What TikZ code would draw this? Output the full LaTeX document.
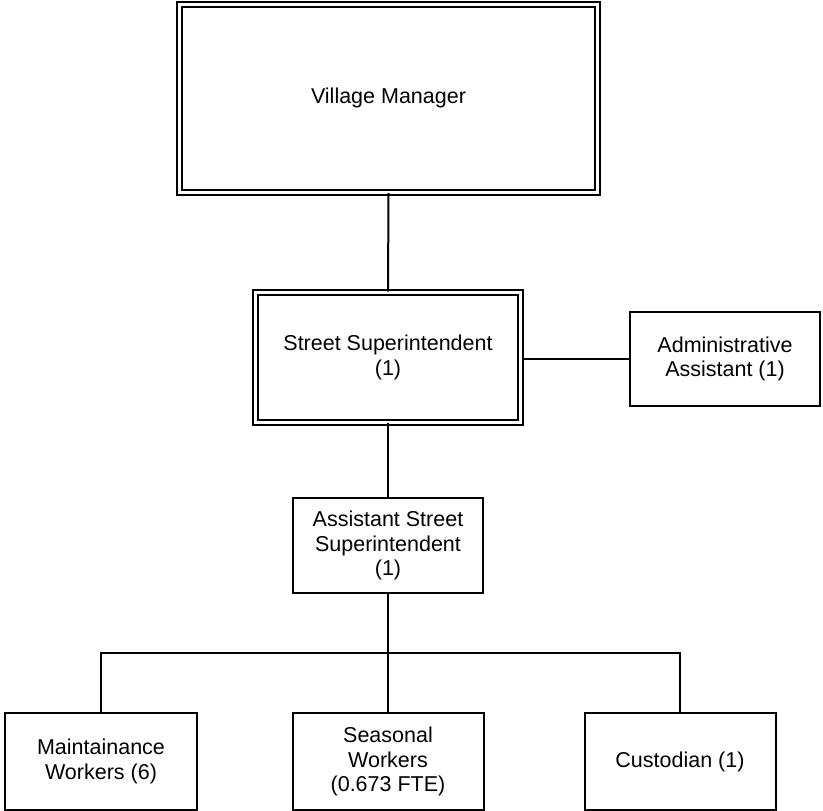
\documentclass[tikz,border=0pt]{standalone}
\usepackage{fontspec}
\setmainfont{Liberation Sans}
\begin{document}
\begin{tikzpicture}[x=1pt,y=-1pt,
  every node/.style={font=\fontsize{21.5}{24.5}\selectfont, align=center, inner sep=0pt},
  unitbox/.style={draw=black, line width=2pt, rectangle},
  leadbox/.style={draw=black, line width=2pt, double=white, double distance=3pt, rectangle},
  link/.style={draw=black, line width=2pt}]
  \useasboundingbox (0,0) rectangle (823,811);

  % management
  \node[leadbox, minimum width=418pt, minimum height=187.5pt] (vm) at (388.5,98.25) {Village Manager};
  \node[leadbox, minimum width=265pt, minimum height=129.5pt] (ss) at (388,357.25) {Street Superintendent\\(1)};
  \node[unitbox, minimum width=190pt, minimum height=94pt] (aa) at (725,359) {Administrative\\Assistant (1)};
  \node[unitbox, minimum width=190pt, minimum height=95pt] (ass) at (388,545.5) {Assistant Street\\Superintendent\\(1)};

  % crews
  \node[unitbox, minimum width=192pt, minimum height=97pt] (mw) at (101,761.5) {Maintainance\\Workers (6)};
  \node[unitbox, minimum width=191pt, minimum height=97pt] (sw) at (388,761.5) {Seasonal\\Workers\\(0.673 FTE)};
  \node[unitbox, minimum width=191pt, minimum height=97pt] (cu) at (680,761.5) {Custodian (1)};

  \coordinate (bus) at (388,653);

  % reporting lines
  \draw[link] (vm.south) -- (ss.north);
  \draw[link] (ss.east |- aa.west) -- (aa.west);
  \draw[link] (ss.south) -- (ass.north);
  \draw[link] (ass.south) -- (sw.north);
  \draw[link] (mw.north) |- (bus) -| (cu.north);
\end{tikzpicture}
\end{document}
